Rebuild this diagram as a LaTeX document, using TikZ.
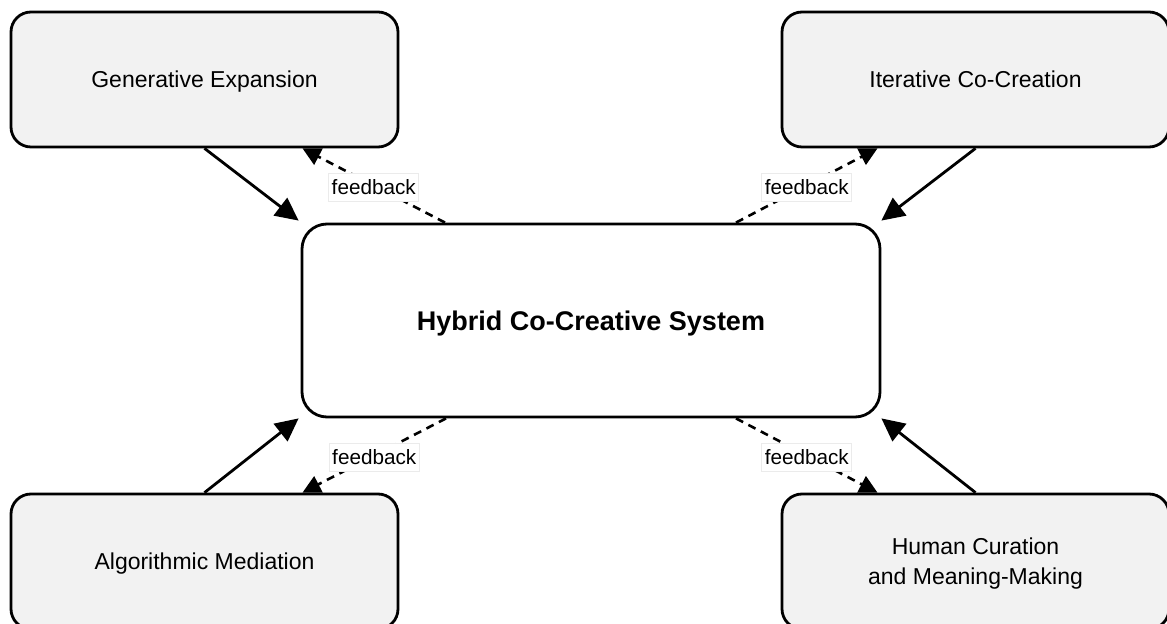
\documentclass[tikz,border=0pt]{standalone}
\usepackage{fontspec}
\setmainfont{Liberation Sans}
\usetikzlibrary{arrows.meta,calc}

\tikzset{
  stage/.style={draw=black, line width=1.4pt, rounded corners=10pt, fill=black!5,
    minimum width=193.5pt, minimum height=67.5pt, inner sep=0pt, align=center,
    text depth=0pt, font=\fontsize{11.5}{15}\selectfont},
  hub/.style={draw=black, line width=1.4pt, rounded corners=12.5pt, fill=white,
    minimum width=289pt, minimum height=96.5pt, inner sep=0pt, align=center,
    text depth=0pt, font=\fontsize{13.5}{16}\selectfont\bfseries},
  flow/.style={line width=1.4pt, -{Triangle[length=11.5pt,width=11pt]}},
  loop/.style={line width=1.3pt, dash pattern=on 4pt off 3pt,
    -{Triangle[length=9pt,width=9pt]}},
  tag/.style={solid, fill=white, draw=black!8, line width=0.3pt, inner xsep=1.5pt,
    inner ysep=0pt, minimum height=14pt, yshift=-1pt,
    font=\fontsize{10.35}{12}\selectfont}
}

\begin{document}
\begin{tikzpicture}[x=0.5pt, y=-0.5pt]
  \clip (0,0) rectangle (1167,624);
  \useasboundingbox (0,0) rectangle (1167,624);

  % outer stages and the central system
  \node[stage] (gen) at (204.5,79.5)  {Generative Expansion};
  \node[stage] (ite) at (975.5,79.5)  {Iterative Co-Creation};
  \node[stage] (alg) at (204.5,561.5) {Algorithmic Mediation};
  \node[stage] (hum) at (975.5,561.5) {Human Curation\\and Meaning-Making};
  \node[hub]   (sys) at (591,320.5)   {Hybrid Co-Creative System};

  % contributions flowing into the system
  \draw[flow] (gen.south) -- ($(sys.north west)+(-2,-2)$);
  \draw[flow] (ite.south) -- ($(sys.north east)+(0,-2)$);
  \draw[flow] (alg.north) -- ($(sys.south west)+(-2,0)$);
  \draw[flow] (hum.north) -- ($(sys.south east)+(0,0)$);

  % feedback returning to each stage
  \draw[loop] ($(sys.north)+(-146,0)$) -- node[tag] {feedback} ($(gen.south)+(98,0)$);
  \draw[loop] ($(sys.north)+(145,0)$)  -- node[tag] {feedback} ($(ite.south)+(-98,0)$);
  \draw[loop] ($(sys.south)+(-145,0)$) -- node[tag] {feedback} ($(alg.north)+(98,0)$);
  \draw[loop] ($(sys.south)+(145,0)$)  -- node[tag] {feedback} ($(hum.north)+(-98,0)$);
\end{tikzpicture}
\end{document}
